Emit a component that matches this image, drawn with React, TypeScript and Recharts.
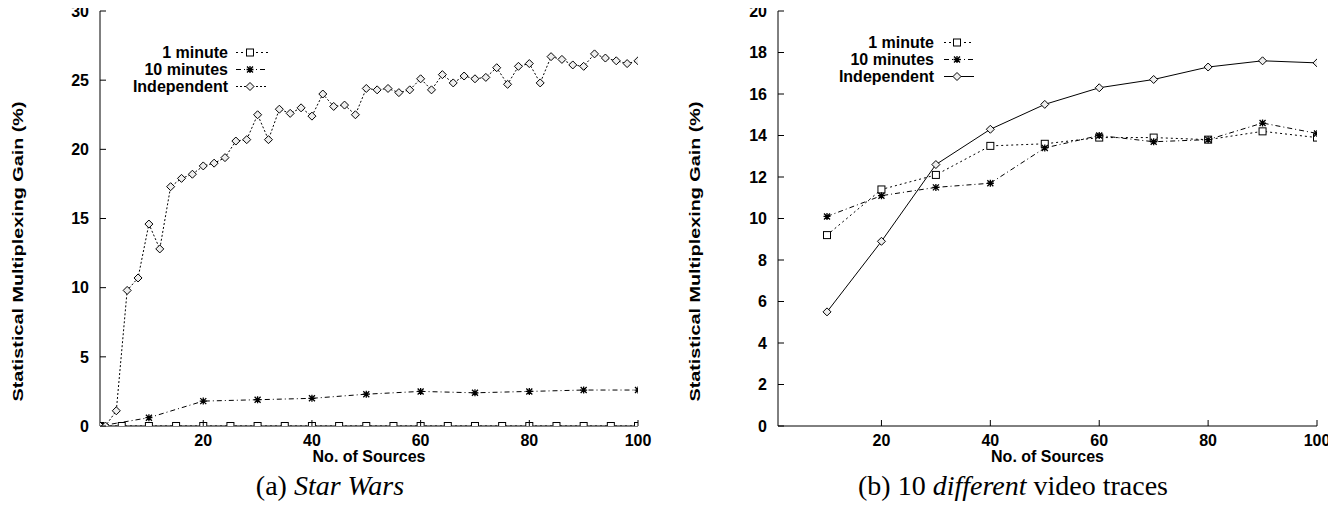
import React from 'react';
import { LineChart, Line, XAxis, YAxis, Legend } from 'recharts';

// (a) Star Wars
const swOneMinSources = [1, 5, 10, 15, 20, 25, 30, 35, 40, 45, 50, 55, 60, 65, 70, 75, 80, 85, 90, 95, 100];
const swOneMinGain = [0, 0, 0, 0, 0, 0, 0, 0, 0, 0, 0, 0, 0, 0, 0, 0, 0, 0, 0, 0, 0];
const swTenMinSources = [1, 10, 20, 30, 40, 50, 60, 70, 80, 90, 100];
const swTenMinGain = [0, 0.6, 1.8, 1.9, 2.0, 2.3, 2.5, 2.4, 2.5, 2.6, 2.6];
const swIndepSources = [
  1, 2, 4, 6, 8, 10, 12, 14, 16, 18, 20, 22, 24, 26, 28, 30, 32, 34, 36, 38, 40, 42, 44, 46, 48, 50,
  52, 54, 56, 58, 60, 62, 64, 66, 68, 70, 72, 74, 76, 78, 80, 82, 84, 86, 88, 90, 92, 94, 96, 98, 100,
];
const swIndepGain = [
  0, 0, 1.1, 9.8, 10.7, 14.6, 12.8, 17.3, 17.9, 18.2, 18.8, 19.0, 19.4, 20.6, 20.7, 22.5, 20.7, 22.9, 22.6,
  23.0, 22.4, 24.0, 23.1, 23.2, 22.5, 24.4, 24.3, 24.4, 24.1, 24.3, 25.1, 24.3, 25.4, 24.8, 25.3, 25.1, 25.2,
  25.9, 24.7, 26.0, 26.2, 24.8, 26.7, 26.5, 26.1, 26.0, 26.9, 26.6, 26.4, 26.2, 26.4,
];

// (b) 10 different video traces
const mixSources = [10, 20, 30, 40, 50, 60, 70, 80, 90, 100];
const mixOneMinGain = [9.2, 11.4, 12.1, 13.5, 13.6, 13.9, 13.9, 13.8, 14.2, 13.9];
const mixTenMinGain = [10.1, 11.1, 11.5, 11.7, 13.4, 14.0, 13.7, 13.8, 14.6, 14.1];
const mixIndepGain = [5.5, 8.9, 12.6, 14.3, 15.5, 16.3, 16.7, 17.3, 17.6, 17.5];

const xTicks = [20, 40, 60, 80, 100];
const swYTicks = [0, 5, 10, 15, 20, 25, 30];
const mixYTicks = [0, 2, 4, 6, 8, 10, 12, 14, 16, 18, 20];

const pairs = (xs: number[], ys: number[]) => xs.map((x, i) => ({ x, y: ys[i] }));

const sansBold = { fontFamily: '"Liberation Sans", Arial, Helvetica, sans-serif', fontWeight: 700, fontSize: 16, fill: '#000' };

type Shape = 'square' | 'star' | 'diamond';
interface Series { name: string; data: { x: number; y: number }[]; dash?: string; shape: Shape }

const Marker = ({ cx, cy, shape }: { cx: number; cy: number; shape: Shape }) => {
  if (cx == null || cy == null) return null;
  if (shape === 'square') {
    return <rect x={cx - 3.5} y={cy - 3.5} width={7} height={7} fill="#fff" stroke="#000" strokeWidth={1} />;
  }
  if (shape === 'diamond') {
    return <path d={`M${cx},${cy - 4}L${cx + 4},${cy}L${cx},${cy + 4}L${cx - 4},${cy}Z`} fill="#eee" stroke="#000" strokeWidth={1} />;
  }
  return (
    <path
      d={`M${cx - 3.5},${cy}H${cx + 3.5}M${cx},${cy - 3.5}V${cy + 3.5}M${cx - 3},${cy - 3}L${cx + 3},${cy + 3}M${cx - 3},${cy + 3}L${cx + 3},${cy - 3}`}
      stroke="#000"
      strokeWidth={1.3}
    />
  );
};

const swSeries: Series[] = [
  { name: '1 minute', data: pairs(swOneMinSources, swOneMinGain), dash: '2 3', shape: 'square' },
  { name: '10 minutes', data: pairs(swTenMinSources, swTenMinGain), dash: '5 3 1 3', shape: 'star' },
  { name: 'Independent', data: pairs(swIndepSources, swIndepGain), dash: '2 2', shape: 'diamond' },
];

const mixSeries: Series[] = [
  { name: '1 minute', data: pairs(mixSources, mixOneMinGain), dash: '2 3', shape: 'square' },
  { name: '10 minutes', data: pairs(mixSources, mixTenMinGain), dash: '5 3 1 3', shape: 'star' },
  { name: 'Independent', data: pairs(mixSources, mixIndepGain), shape: 'diamond' },
];

// gnuplot style: ticks point inwards on all four sides
const BottomTick = (p: any) => (
  <g>
    <line x1={p.x} y1={p.y} x2={p.x} y2={p.y - 6} stroke="#000" />
    <text x={p.x} y={p.y + 20} textAnchor="middle" style={sansBold}>{p.payload.value}</text>
  </g>
);
const TopTick = (p: any) => <line x1={p.x} y1={p.y} x2={p.x} y2={p.y + 6} stroke="#000" />;
const LeftTick = (p: any) => (
  <g>
    <line x1={p.x} y1={p.y} x2={p.x + 6} y2={p.y} stroke="#000" />
    <text x={p.x - 11} y={p.y} dy="0.36em" textAnchor="end" style={sansBold}>{p.payload.value}</text>
  </g>
);
const RightTick = (p: any) => <line x1={p.x} y1={p.y} x2={p.x - 6} y2={p.y} stroke="#000" />;

const yLabel = (dx: number) => (props: any) => {
  const vb = props.viewBox || {};
  const cx = vb.x + dx;
  const cy = vb.y + vb.height / 2 + 33;
  return (
    <text
      x={cx}
      y={cy}
      transform={`rotate(-90 ${cx} ${cy})`}
      textAnchor="middle"
      dominantBaseline="central"
      textLength={300}
      lengthAdjust="spacingAndGlyphs"
      style={{ ...sansBold, fontSize: 14 }}
    >
      Statistical Multiplexing Gain (%)
    </text>
  );
};

const makeLegend = (series: Series[], gap: number, sample: number) => () => (
  <div style={{ ...sansBold, color: '#000' }}>
    {series.map((s) => (
      <div key={s.name} style={{ display: 'flex', alignItems: 'center', height: 17, lineHeight: '17px' }}>
        <span style={{ width: 110, textAlign: 'right' }}>{s.name}</span>
        <svg width={sample} height={17} style={{ marginLeft: gap }}>
          <line x1={0} y1={8.5} x2={sample} y2={8.5} stroke="#000" strokeDasharray={s.dash} />
          <Marker cx={sample / 2 - 2} cy={8.5} shape={s.shape} />
        </svg>
      </div>
    ))}
  </div>
);

interface PanelProps {
  series: Series[];
  width: number;
  yMax: number;
  yTicks: number[];
  axisWidth: number;
  rightMargin: number;
  labelDx: number;
  legendPos: { left: number; top: number };
  legendGap: number;
  legendSample: number;
}

const Panel = ({ series, width, yMax, yTicks, axisWidth, rightMargin, labelDx, legendPos, legendGap, legendSample }: PanelProps) => (
  <LineChart width={width} height={470} margin={{ top: 11, right: rightMargin, bottom: 4, left: 0 }}>
    <XAxis
      dataKey="x"
      type="number"
      domain={[1, 100]}
      ticks={xTicks}
      interval={0}
      allowDataOverflow
      height={40}
      tickSize={0}
      tickMargin={0}
      tickLine={false}
      tick={BottomTick}
      axisLine={{ stroke: '#000' }}
      label={{ value: 'No. of Sources', position: 'insideBottom', offset: 4, style: sansBold }}
    />
    <XAxis
      xAxisId="t"
      orientation="top"
      type="number"
      domain={[1, 100]}
      ticks={xTicks}
      interval={0}
      height={0}
      tickSize={0}
      tickMargin={0}
      tickLine={false}
      tick={TopTick}
      axisLine={{ stroke: '#000' }}
    />
    <YAxis
      type="number"
      domain={[0, yMax]}
      ticks={yTicks}
      interval={0}
      allowDataOverflow
      width={axisWidth}
      tickSize={0}
      tickMargin={0}
      tickLine={false}
      tick={LeftTick}
      axisLine={{ stroke: '#000' }}
      label={{ content: yLabel(labelDx) }}
    />
    <YAxis
      yAxisId="r"
      orientation="right"
      type="number"
      domain={[0, yMax]}
      ticks={yTicks}
      interval={0}
      width={0}
      tickSize={0}
      tickMargin={0}
      tickLine={false}
      tick={RightTick}
      axisLine={{ stroke: '#000' }}
    />
    <Legend
      layout="vertical"
      align="center"
      verticalAlign="middle"
      content={makeLegend(series, legendGap, legendSample)}
      wrapperStyle={{ left: legendPos.left, top: legendPos.top, width: 'auto', height: 'auto' }}
    />
    {series.map((s) => (
      <Line
        key={s.name}
        name={s.name}
        data={s.data}
        dataKey="y"
        type="linear"
        stroke="#000"
        strokeWidth={1}
        strokeDasharray={s.dash}
        dot={(p: any) => <Marker key={`${s.name}-${p.index}`} cx={p.cx} cy={p.cy} shape={s.shape} />}
        activeDot={false}
        isAnimationActive={false}
      />
    ))}
  </LineChart>
);

const captionStyle: React.CSSProperties = {
  position: 'absolute',
  width: 400,
  top: 464,
  textAlign: 'center',
  fontFamily: '"Liberation Serif", "Times New Roman", serif',
  fontSize: 28,
  lineHeight: '28px',
  color: '#000',
};

export default function App() {
  return (
    <div style={{ position: 'relative', width: 1320, height: 495, background: '#fff' }}>
      <div style={{ position: 'absolute', left: 0, top: -8 }}>
        <Panel
          series={swSeries}
          width={660}
          yMax={30}
          yTicks={swYTicks}
          axisWidth={92}
          rightMargin={30}
          labelDx={10}
          legendPos={{ left: 110, top: 43.5 }}
          legendGap={8}
          legendSample={32}
        />
      </div>
      <div style={{ position: 'absolute', left: 660, top: -8 }}>
        <Panel
          series={mixSeries}
          width={668}
          yMax={20}
          yTicks={mixYTicks}
          axisWidth={110}
          rightMargin={19}
          labelDx={27}
          legendPos={{ left: 156, top: 33.5 }}
          legendGap={10}
          legendSample={30}
        />
      </div>
      <div style={{ ...captionStyle, left: 322 - 200 }}>
        (a) <i>Star Wars</i>
      </div>
      <div style={{ ...captionStyle, left: 1005 - 200 }}>
        (b) 10 <i>different</i> video traces
      </div>
    </div>
  );
}
